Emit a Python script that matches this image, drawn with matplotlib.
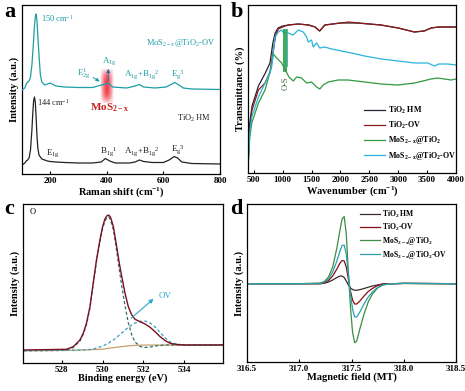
import numpy as np
import matplotlib
matplotlib.use("Agg")
import matplotlib.pyplot as plt

plt.rcParams['font.family'] = ['Liberation Serif', 'DejaVu Serif']
plt.rcParams['mathtext.fontset'] = 'custom'
plt.rcParams['mathtext.default'] = 'regular'
plt.rcParams['axes.linewidth'] = 0.9

# ---------------- data: panel a (Raman) ----------------
raman_x_hm = [100, 110, 115, 120, 125, 130, 135, 138, 141, 144, 147, 150, 153, 156, 160, 170, 180, 190,
              200, 220, 250, 300, 350, 380, 395, 410, 430, 480, 500, 515, 530, 560, 600, 620,
              638, 650, 665, 700, 800]
raman_y_hm = [9, 11, 13, 14, 16, 24, 44, 60, 73, 77, 72, 56, 38, 26, 19, 15, 14, 13,
              12.5, 12, 11.5, 11, 11, 12, 15.5, 13, 11, 11, 12, 14, 12.5, 11.5, 11.5, 14,
              17.5, 16, 12, 10.5, 10]
raman_x_ov = [100, 110, 115, 120, 125, 130, 135, 140, 144, 147, 150, 153, 156, 160, 165, 170, 180, 200,
              220, 250, 300, 350, 380, 395, 405, 420, 470, 500, 515, 530, 570, 610, 630, 640,
              655, 670, 700, 800]
raman_y_ov = [84, 86, 90, 92, 93, 97, 109, 129, 148, 157, 160, 153, 138, 119, 99, 92, 89, 91,
              88, 87, 86.5, 86.5, 89, 90, 91, 87, 86, 88, 89.5, 87, 86, 87, 90, 91.5,
              89, 86, 85, 84.5]

# ---------------- data: panel b (FTIR) ----------------
ftir_x_hm = [400, 410, 430, 470, 580, 700, 780, 830, 870, 920, 1000, 1100, 1270, 1450, 1560,
             1640, 1730, 2000, 2300, 2700, 3000, 3280, 3450, 3570, 3700, 4000]
ftir_y_hm = [3, 25, 50, 67, 87, 100, 110, 130, 140, 145, 147, 148, 149, 148, 146,
             142, 148, 150, 150, 148, 145, 141, 142, 145, 146, 146]
ftir_x_ov = [400, 410, 430, 470, 580, 695, 781, 839, 880, 925, 1040, 1100, 1270, 1450, 1560,
             1640, 1730, 2000, 2150, 2300, 2700, 3000, 3280, 3450, 3570, 3700, 4000]
ftir_y_ov = [3, 20, 45, 63, 83, 90, 101, 123, 138, 144, 147, 148, 149, 148, 146,
             142, 148, 150, 151, 150, 148, 145, 141, 142, 145, 146, 146]
ftir_x_mos = [400, 410, 430, 465, 581, 695, 781, 839, 896, 983, 1000, 1109, 1184, 1241, 1327,
              1414, 1500, 1586, 1643, 1701, 1787, 1960, 2132, 2420, 2707, 2995, 3283, 3569,
              3684, 3914, 4000]
ftir_y_mos = [3, 15, 35, 50, 70, 83, 101, 119, 115, 110, 108, 96, 92, 96, 95,
              90, 91, 86, 84, 88, 91, 93, 93, 91, 89, 88, 90, 94,
              95, 93, 94]
ftir_x_mosov = [400, 410, 430, 465, 581, 695, 781, 810, 868, 925, 983, 1000, 1100, 1180, 1270,
                1356, 1414, 1443, 1500, 1529, 1586, 1643, 1730, 1845, 2017, 2190, 2420, 2707,
                2995, 3283, 3513, 3627, 3700, 3856, 4000]
ftir_y_mosov = [3, 18, 40, 56, 76, 90, 100, 106, 136, 141, 143, 141, 140, 138, 143,
                141, 136, 131, 133, 126, 130, 125, 126, 124, 122, 120, 117, 114,
                112, 110, 110, 107, 109, 109, 108]

# ---------------- data: panel c (XPS O 1s) ----------------
xps_x = [526.13, 528.23, 528.56, 528.89, 529.05, 529.21, 529.38, 529.54, 529.7, 529.87,
         530.0, 530.11, 530.2, 530.3, 530.39, 530.53, 530.69, 530.82, 530.94, 531.1,
         531.26, 531.43, 531.59, 531.84, 532.08, 532.33, 532.57, 532.82, 533.07, 533.31,
         533.6, 534.0, 534.79, 535.9]
xps_env = [13, 13.7, 16.3, 23, 29.7, 39.7, 56.3, 79.7, 103, 123,
           136.3, 143.7, 147, 148, 145.7, 136.3, 116.3, 99.7, 86.3, 69.7,
           56.3, 48, 43.7, 41.3, 39, 35.7, 31.3, 26.3, 22.3, 19.7,
           18.6, 18, 18, 18]
xps_bg = [12.3, 12.6, 12.8, 13, 13.1, 13.2, 13.3, 13.4, 13.5, 13.7,
          13.9, 14.2, 14.5, 14.7, 15, 15.3, 15.8, 16.1, 16.4, 16.8,
          17.1, 17.4, 17.6, 17.8, 17.9, 18, 18, 18, 18, 18,
          18, 18, 18, 18]
xps_lat = [12.3, 12.6, 15.5, 22, 28.5, 38.5, 55, 78.5, 101.5, 121.5,
           134.5, 141.5, 145, 146, 143, 133, 112, 93, 77, 57,
           40, 28, 21, 16.5, 15.5, 16, 17, 17.5, 18, 18,
           18, 18, 18, 18]
xps_ovp = [12.3, 12.6, 12.8, 13, 13.1, 13.2, 13.5, 14, 15, 16,
           17, 18, 19, 20, 21.5, 23, 25.5, 28, 30, 33,
           35.5, 38, 40, 41.5, 42, 40, 36, 30.5, 25, 21,
           19, 18, 18, 18]

# ---------------- data: panel d (EPR) ----------------
epr_x = [316.5, 317.0, 317.2, 317.24, 317.28, 317.32, 317.36, 317.39, 317.41, 317.43, 317.45,
         317.47, 317.49, 317.51, 317.53, 317.55, 317.58, 317.62, 317.66, 317.7, 317.75, 317.8,
         317.85, 317.9, 318.0, 318.5]
epr_hm = [78.3, 78.3, 78.3, 78.8, 80, 82, 84.5, 86, 86, 84.5, 81,
          77, 74, 72.5, 71.8, 71.7, 72.3, 73.5, 74.8, 76, 77, 78,
          78.3, 78.3, 78.6, 78.3]
epr_ov = [78.3, 78.3, 78.3, 79.3, 81.5, 86, 93, 99, 101.5, 101, 95,
          83, 71, 62, 58, 58, 61, 66, 70.5, 73.5, 76.5, 78,
          78.3, 78.3, 78.6, 78.3]
epr_mos = [78.3, 78.3, 79, 80.5, 85, 95, 114, 132, 143, 145.5, 128,
           90, 55, 30, 19.3, 21, 33, 48, 60, 68, 74, 77,
           78, 78.3, 78.6, 78.3]
epr_mosov = [78.3, 78.3, 78.5, 80, 83, 90, 101, 111, 116.5, 117, 108,
             88, 68, 53, 45, 45, 50, 58, 65, 70, 74.5, 77,
             78, 78.3, 78.6, 78.3]

labels4 = ['TiO$_2$ HM', 'TiO$_2$-OV', 'MoS$_{2-x}$@TiO$_2$', 'MoS$_{2-x}$@TiO$_2$-OV']

W, H = 465, 391
fig = plt.figure(figsize=(W / 100, H / 100), dpi=100)


def box(l, t, r, b):
    return [l / W, (H - b) / H, (r - l) / W, (b - t) / H]


TICKFS = 6.5
LABFS = 7.5

def style(ax):
    ax.tick_params(axis='x', direction='in', length=2.5, width=0.8, pad=2,
                   labelsize=TICKFS)
    for t in ax.get_xticklabels():
        t.set_fontweight('bold')
    ax.set_yticks([])


# ---------------- panel a ----------------
axa = fig.add_axes(box(22, 5, 220, 174))
cA_ov = '#1e9ea6'
axa.plot(raman_x_hm, raman_y_hm, color='#222222', lw=0.9)
axa.plot(raman_x_ov, raman_y_ov, color=cA_ov, lw=0.9, zorder=3)
# red glow
nx, ny = 40, 40
gx = np.linspace(-1, 1, nx)
gy = np.linspace(-1, 1, ny)
GX, GY = np.meshgrid(gx, gy)
alpha = np.clip(1 - np.abs(GX) ** 1.5, 0, 1) * np.clip(1 - np.abs(GY) ** 3, 0, 1)
img = np.zeros((ny, nx, 4))
img[..., 0] = 0.93
img[..., 1] = 0.15
img[..., 2] = 0.2
img[..., 3] = alpha * 0.9
axa.imshow(img, extent=[377, 423, 70, 106], aspect='auto', zorder=2, interpolation='bilinear')
axa.set_xlim(100, 800)
axa.set_ylim(0, 169)
axa.set_xticks([200, 400, 600, 800])
style(axa)
axa.set_xlabel('Raman shift (cm$^{-1}$)', fontsize=LABFS, fontweight='bold', labelpad=0)
axa.set_ylabel('Intensity (a.u.)', fontsize=LABFS, fontweight='bold', labelpad=2)
afs = 6
axa.text(168, 156, '150 cm$^{-1}$', color=cA_ov, fontsize=afs, va='center')
axa.text(660, 131, 'MoS$_{2-x}$@TiO$_2$-OV', color=cA_ov, fontsize=afs, ha='center', va='center')
axa.text(295, 100, 'E$^{1}_{2g}$', color=cA_ov, fontsize=afs + 0.5, va='center')
axa.annotate('', xy=(383, 91), xytext=(343, 98),
             arrowprops=dict(arrowstyle='-|>', color=cA_ov, lw=0.7, mutation_scale=5))
axa.text(410, 113, 'A$_{1g}$', color=cA_ov, fontsize=afs + 0.5, ha='center', va='center')
axa.annotate('', xy=(405, 108), xytext=(405, 90),
             arrowprops=dict(arrowstyle='-|>', color='#2a6fa8', lw=0.7, mutation_scale=5))
axa.text(525, 99, 'A$_{1g}$+B$_{1g}$$^{2}$', color=cA_ov, fontsize=afs + 0.5, ha='center', va='center')
axa.text(652, 99, 'E$_{g}$$^{3}$', color=cA_ov, fontsize=afs + 0.5, ha='center', va='center')
axa.text(410, 66, 'MoS$_{2-x}$', color='#c81e1e', fontsize=8, fontweight='bold', ha='center', va='center')
axa.text(152, 71, '144 cm$^{-1}$', color='#222222', fontsize=afs, va='center')
axa.text(707, 56, 'TiO$_2$ HM', color='#222222', fontsize=afs, ha='center', va='center')
axa.text(208, 21, 'E$_{1g}$', color='#222222', fontsize=afs + 0.5, ha='center', va='center')
axa.text(405, 22, 'B$_{1g}$$^{1}$', color='#222222', fontsize=afs + 0.5, ha='center', va='center')
axa.text(525, 22, 'A$_{1g}$+B$_{1g}$$^{2}$', color='#222222', fontsize=afs + 0.5, ha='center', va='center')
axa.text(653, 24, 'E$_{g}$$^{3}$', color='#222222', fontsize=afs + 0.5, ha='center', va='center')

# ---------------- panel b ----------------
axb = fig.add_axes(box(248, 5, 456, 173))
cB = ['#2a2233', '#8b1a1a', '#2f9a3f', '#28b4dc']
axb.plot(ftir_x_hm, ftir_y_hm, color=cB[0], lw=0.9, label=labels4[0])
axb.plot(ftir_x_ov, ftir_y_ov, color=cB[1], lw=0.9, label=labels4[1])
axb.plot(ftir_x_mos, ftir_y_mos, color=cB[2], lw=0.9, label=labels4[2])
axb.plot(ftir_x_mosov, ftir_y_mosov, color=cB[3], lw=0.9, label=labels4[3])
# O-S band
axb.fill_between([1000, 1070], [101, 101], [144, 144], color='#2fa14a', alpha=0.9, lw=0, zorder=4)
axb.fill_between([1070, 1095], [106, 106], [144, 144], color='#39b0c8', alpha=0.9, lw=0, zorder=4)
axb.text(1045, 90, 'O-S', rotation=90, color='#3a6a45', fontsize=6, ha='center', va='center')
axb.set_xlim(400, 4000)
axb.set_ylim(0, 168)
axb.set_xticks([500, 1000, 1500, 2000, 2500, 3000, 3500, 4000])
style(axb)
axb.set_xlabel('Wavenumber (cm$^{-1}$)', fontsize=LABFS, fontweight='bold', labelpad=0)
axb.set_ylabel('Transmittance (%)', fontsize=LABFS, fontweight='bold', labelpad=2)
legb = axb.legend(loc='upper left', bbox_to_anchor=(0.54, 0.43), frameon=False,
                  prop={'family': 'Liberation Serif', 'weight': 'bold', 'size': 5.8},
                  handlelength=2.6, handletextpad=0.3, labelspacing=0.45, borderpad=0)

# ---------------- panel c ----------------
axc = fig.add_axes(box(23, 204, 223, 363))
axc.plot(xps_x, xps_bg, color='#c8a068', lw=0.9)
axc.plot(xps_x, xps_lat, color='#2f6f6a', lw=0.9, ls=(0, (2.5, 1.8)))
axc.plot(xps_x, xps_ovp, color='#3a9fc0', lw=0.9, ls=(0, (2.5, 1.8)))
axc.plot(xps_x, xps_env, color='#7a1020', lw=1.0)
axc.set_xlim(526.1, 535.9)
axc.set_ylim(0, 159)
axc.set_xticks([528, 530, 532, 534])
style(axc)
axc.set_xlabel('Binding energy (eV)', fontsize=LABFS, fontweight='bold', labelpad=0)
axc.set_ylabel('Intensity (a.u.)', fontsize=LABFS, fontweight='bold', labelpad=2)
axc.text(0.035, 0.95, 'O', transform=axc.transAxes, fontsize=6, va='center')
axc.annotate('', xy=(532.6, 66), xytext=(531.3, 43),
             arrowprops=dict(arrowstyle='-|>', color='#2aa8cc', lw=0.8, mutation_scale=6))
axc.text(532.75, 67, 'OV', color='#2aa8cc', fontsize=6.5, va='center')

# ---------------- panel d ----------------
axd = fig.add_axes(box(247, 204, 456, 362))
cD = ['#3a2a2a', '#8b0a14', '#3c8c44', '#2aa0b0']
axd.plot(epr_x, epr_hm, color=cD[0], lw=0.9, label=labels4[0])
axd.plot(epr_x, epr_ov, color=cD[1], lw=0.9, label=labels4[1])
axd.plot(epr_x, epr_mos, color=cD[2], lw=0.9, label=labels4[2])
axd.plot(epr_x, epr_mosov, color=cD[3], lw=0.9, label=labels4[3])
axd.set_xlim(316.5, 318.5)
axd.set_ylim(0, 158)
axd.set_xticks([316.5, 317.0, 317.5, 318.0, 318.5])
axd.set_xticklabels(['316.5', '317.0', '317.5', '318.0', '318.5'])
style(axd)
axd.set_xlabel('Magnetic field (MT)', fontsize=LABFS, fontweight='bold', labelpad=0)
axd.set_ylabel('Intensity (a.u.)', fontsize=LABFS, fontweight='bold', labelpad=2)
axd.legend(loc='upper left', bbox_to_anchor=(0.52, 1.0), frameon=False,
           prop={'family': 'Liberation Serif', 'weight': 'bold', 'size': 5.5},
           handlelength=2.6, handletextpad=0.3, labelspacing=0.25, borderpad=0.1)

# panel letters
for lab, x, y in [('a', 4, 17), ('b', 231, 17), ('c', 4, 214), ('d', 230, 214)]:
    fig.text(x / W, (H - y) / H, lab, fontsize=16, fontweight='bold', va='baseline')

fig.savefig('out.png', dpi=100)
